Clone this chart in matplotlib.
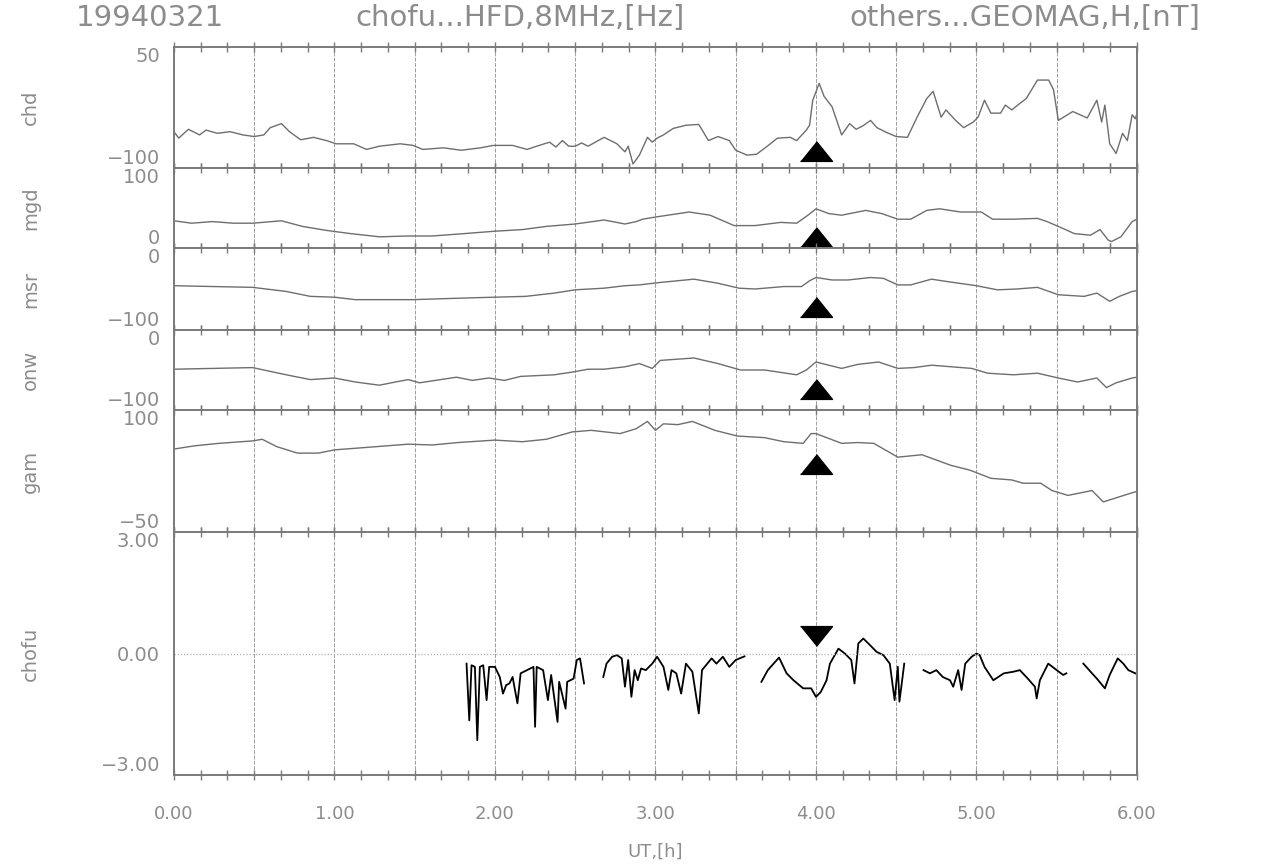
import numpy as np
import matplotlib
matplotlib.use("Agg")
import matplotlib.pyplot as plt
from matplotlib.ticker import MultipleLocator, FuncFormatter

# geomagnetic H component [nT], (UT hour, value)
chd = [(0, -55), (0.03, -63), (0.09, -52), (0.16, -59), (0.20, -53), (0.27, -57), (0.35, -55),
       (0.43, -59), (0.50, -61), (0.56, -59), (0.60, -50), (0.67, -45), (0.72, -55), (0.79, -65),
       (0.87, -62), (0.95, -66), (1.01, -70), (1.12, -70), (1.20, -77), (1.28, -73), (1.41, -70),
       (1.49, -72), (1.55, -77), (1.68, -75), (1.79, -78), (1.91, -75), (1.99, -72), (2.11, -72),
       (2.20, -77), (2.26, -73), (2.34, -68), (2.38, -74), (2.42, -66), (2.46, -73), (2.50, -73),
       (2.54, -69), (2.58, -73), (2.68, -62), (2.76, -70), (2.81, -80), (2.83, -73), (2.86, -95),
       (2.90, -84), (2.95, -62), (2.98, -68), (3.01, -63), (3.05, -59), (3.11, -51), (3.19, -47),
       (3.27, -46), (3.33, -66), (3.39, -61), (3.46, -66), (3.50, -78), (3.57, -84), (3.63, -83),
       (3.69, -74), (3.76, -63), (3.84, -62), (3.88, -66), (3.94, -53), (3.96, -47), (3.98, -16),
       (4.02, 5), (4.05, -11), (4.10, -24), (4.16, -59), (4.21, -45), (4.25, -52), (4.29, -48),
       (4.34, -41), (4.38, -50), (4.44, -56), (4.50, -61), (4.57, -62), (4.63, -37), (4.69, -14),
       (4.73, -5), (4.78, -37), (4.81, -28), (4.87, -41), (4.92, -50), (4.98, -43), (5.01, -37),
       (5.05, -16), (5.09, -32), (5.15, -32), (5.18, -22), (5.22, -28), (5.27, -20), (5.31, -14),
       (5.38, 9), (5.45, 9), (5.48, -3), (5.51, -41), (5.60, -30), (5.69, -38), (5.75, -16),
       (5.78, -43), (5.80, -22), (5.83, -70), (5.87, -82), (5.91, -57), (5.94, -66), (5.97, -34),
       (5.99, -39), (6.0, -32)]

mgd = [(0, 34), (0.11, 31), (0.24, 33), (0.37, 31), (0.49, 31), (0.67, 34), (0.80, 27),
       (0.95, 22), (1.10, 18), (1.28, 14), (1.46, 15), (1.61, 15), (1.81, 18), (2.0, 21),
       (2.17, 23), (2.32, 27), (2.50, 30), (2.68, 35), (2.81, 30), (2.88, 33), (2.92, 36),
       (3.01, 39), (3.21, 45), (3.34, 41), (3.49, 28), (3.62, 28), (3.78, 32), (3.88, 31),
       (3.95, 41), (4.0, 49), (4.08, 43), (4.16, 41), (4.31, 47), (4.41, 43), (4.51, 36),
       (4.59, 36), (4.69, 47), (4.77, 49), (4.90, 45), (5.03, 45), (5.10, 36), (5.23, 36),
       (5.38, 37), (5.44, 33), (5.51, 27), (5.61, 18), (5.71, 16), (5.77, 23), (5.82, 10),
       (5.84, 8), (5.90, 14), (5.97, 33), (6.0, 36)]

msr = [(0, -46), (0.49, -48), (0.70, -53), (0.85, -59), (1.0, -60), (1.13, -63), (1.33, -63),
       (1.49, -63), (1.81, -61), (2.19, -59), (2.37, -55), (2.50, -51), (2.68, -49), (2.81, -46),
       (2.90, -45), (3.03, -42), (3.24, -38), (3.39, -43), (3.52, -49), (3.62, -50), (3.80, -47),
       (3.91, -47), (3.96, -40), (4.0, -36), (4.10, -39), (4.20, -39), (4.34, -36), (4.42, -37),
       (4.51, -45), (4.59, -45), (4.72, -38), (4.82, -41), (5.0, -46), (5.13, -51), (5.25, -50),
       (5.38, -48), (5.51, -57), (5.67, -59), (5.75, -55), (5.83, -65), (5.89, -59), (5.97, -53),
       (6.0, -52)]

onw = [(0, -49), (0.49, -47), (0.70, -56), (0.85, -62), (1.0, -60), (1.13, -65), (1.28, -69),
       (1.38, -65), (1.46, -62), (1.53, -66), (1.76, -59), (1.86, -63), (1.96, -60), (2.06, -63),
       (2.16, -58), (2.37, -56), (2.50, -52), (2.58, -49), (2.68, -49), (2.81, -46), (2.90, -42),
       (2.98, -48), (3.03, -38), (3.24, -35), (3.39, -42), (3.53, -50), (3.68, -50), (3.88, -56),
       (3.94, -50), (4.0, -40), (4.06, -43), (4.16, -48), (4.26, -43), (4.39, -40), (4.51, -48),
       (4.61, -47), (4.72, -44), (4.97, -48), (5.07, -54), (5.23, -56), (5.38, -54), (5.51, -60),
       (5.63, -65), (5.75, -60), (5.81, -72), (5.87, -66), (5.97, -60), (6.0, -59)]

gam = [(0, 52), (0.13, 56), (0.28, 59), (0.49, 62), (0.55, 64), (0.64, 55), (0.77, 47),
       (0.90, 47), (1.0, 51), (1.20, 54), (1.46, 58), (1.61, 57), (1.77, 60), (2.0, 63),
       (2.17, 61), (2.32, 64), (2.48, 73), (2.60, 75), (2.78, 71), (2.88, 77), (2.95, 86),
       (3.0, 75), (3.05, 83), (3.14, 82), (3.23, 86), (3.37, 75), (3.51, 68), (3.68, 66),
       (3.80, 61), (3.92, 59), (3.97, 71), (4.0, 71), (4.08, 65), (4.16, 59), (4.26, 60),
       (4.36, 59), (4.51, 42), (4.66, 45), (4.84, 32), (4.96, 26), (5.09, 16), (5.22, 14),
       (5.29, 10), (5.40, 10), (5.47, 1), (5.57, -5), (5.72, 1), (5.79, -13), (5.95, -3),
       (6.0, 0)]

# chofu HFD 8 MHz doppler [Hz], gaps between segments
hfd_segments = [
    [(1.823, -0.25), (1.84, -1.65), (1.854, -0.29), (1.875, -0.33), (1.89, -2.14), (1.906, -0.33),
     (1.927, -0.29), (1.948, -1.15), (1.964, -0.33), (2.0, -0.33), (2.03, -0.58), (2.05, -0.99),
     (2.07, -0.78), (2.09, -0.74), (2.11, -0.58), (2.14, -1.23), (2.16, -0.49), (2.20, -0.41),
     (2.24, -0.33), (2.25, -1.81), (2.26, -0.33), (2.30, -0.41), (2.33, -1.15), (2.35, -0.53),
     (2.39, -1.69), (2.40, -0.70), (2.44, -1.36), (2.45, -0.70), (2.49, -0.62), (2.51, -0.16),
     (2.53, -0.12), (2.555, -0.74)],
    [(2.675, -0.58), (2.695, -0.25), (2.73, -0.08), (2.76, -0.04), (2.79, -0.12), (2.81, -0.82),
     (2.83, -0.16), (2.85, -1.07), (2.87, -0.41), (2.89, -0.66), (2.91, -0.37), (2.94, -0.41),
     (2.98, -0.25), (3.01, -0.08), (3.05, -0.33), (3.08, -0.90), (3.10, -0.41), (3.13, -0.49),
     (3.16, -0.99), (3.19, -0.25), (3.23, -0.45), (3.27, -1.48), (3.29, -0.41), (3.35, -0.12),
     (3.38, -0.25), (3.42, -0.08), (3.46, -0.33), (3.50, -0.16), (3.555, -0.07)],
    [(3.66, -0.70), (3.70, -0.41), (3.77, -0.10), (3.817, -0.49), (3.86, -0.66), (3.92, -0.86),
     (3.97, -0.86), (4.0, -1.07), (4.03, -0.95), (4.066, -0.66), (4.087, -0.25), (4.14, 0.12),
     (4.18, 0.0), (4.22, -0.16), (4.24, -0.74), (4.264, 0.25), (4.295, 0.37), (4.336, 0.21),
     (4.378, 0.04), (4.42, -0.04), (4.46, -0.25), (4.49, -1.15), (4.51, -0.33), (4.52, -1.19),
     (4.55, -0.25)],
    [(4.67, -0.41), (4.71, -0.49), (4.75, -0.41), (4.79, -0.58), (4.835, -0.66), (4.855, -0.82),
     (4.886, -0.41), (4.907, -0.90), (4.93, -0.25), (4.97, -0.08), (5.0, 0.0), (5.02, -0.04),
     (5.05, -0.33), (5.105, -0.66), (5.17, -0.49), (5.23, -0.45), (5.27, -0.41), (5.32, -0.62),
     (5.364, -0.82), (5.375, -1.11), (5.395, -0.66), (5.447, -0.25), (5.50, -0.41), (5.54, -0.53),
     (5.56, -0.49)],
    [(5.666, -0.25), (5.72, -0.49), (5.75, -0.62), (5.80, -0.86), (5.83, -0.53), (5.88, -0.12),
     (5.915, -0.25), (5.946, -0.41), (5.99, -0.49)],
]

panel_names = ["chd", "mgd", "msr", "onw", "gam", "chofu"]
panel_ylims = [(-100, 50), (0, 100), (-100, 0), (-100, 0), (-50, 100), (-3, 3)]
event_time = 4.0
event_levels = [-79, 14, -72, -74, 33, 0.43]

title_parts = ["19940321", "chofu...HFD,8MHz,[Hz]", "others...GEOMAG,H,[nT]"]

txt = "#8c8c8c"
frame = "#7a7a7a"

fig = plt.figure(figsize=(12.65, 8.67), dpi=100)
gs = fig.add_gridspec(6, 1, height_ratios=[121, 80, 82, 80, 122, 243], hspace=0,
                      left=0.1375, right=0.8988, top=0.9458, bottom=0.1061)
axes = [fig.add_subplot(gs[i]) for i in range(6)]

tri_up = [(-1, -0.62), (1, -0.62), (0, 0.62)]
tri_down = [(-1, 0.62), (1, 0.62), (0, -0.62)]

mag = [chd, mgd, msr, onw, gam]
for i, ax in enumerate(axes):
    lo, hi = panel_ylims[i]
    ax.set_xlim(0, 6)
    ax.set_ylim(lo, hi)
    ax.xaxis.set_major_locator(MultipleLocator(0.5))
    ax.xaxis.set_minor_locator(MultipleLocator(1 / 6))
    ax.grid(axis="x", which="major", color="#9c9c9c", lw=0.7, ls=(0, (4, 1.5)))
    ax.tick_params(axis="x", which="both", direction="inout", top=True, bottom=True,
                   length=7, width=1, color=frame, labelbottom=False)
    for sp in ax.spines.values():
        sp.set_color(frame)
        sp.set_linewidth(1.4)

    if i < 5:
        d = np.array(mag[i]).T
        ax.plot(d[0], d[1], color="#6e6e6e", lw=1.0)
        ax.set_yticks([lo, hi])
        ax.set_yticklabels([f"{lo:d}".replace("-", "\u2212"), f"{hi:d}".replace("-", "\u2212")])
        ax.plot([event_time], [event_levels[i]], marker=tri_up, ms=23, color="black", ls="none")
    else:
        for seg in hfd_segments:
            d = np.array(seg).T
            ax.plot(d[0], d[1], color="black", lw=1.3)
        ax.axhline(0, color="#b0b0b0", lw=0.9, ls=(0, (1, 1.5)))
        ax.set_yticks([lo, 0, hi])
        ax.set_yticklabels(["\u22123.00", "0.00", "3.00"])
        ax.plot([event_time], [event_levels[i]], marker=tri_down, ms=23, color="black", ls="none")

    ax.tick_params(axis="y", length=0, pad=10, labelsize=14, labelcolor=txt)
    ticks = ax.yaxis.get_major_ticks()
    ticks[0].label1.set_va("bottom")
    ticks[-1].label1.set_va("top")

    ax.set_ylabel(panel_names[i], fontsize=14, color=txt)
    ax.yaxis.set_label_coords(-0.139, 0.5)

bax = axes[-1]
bax.xaxis.set_major_formatter(FuncFormatter(
    lambda x, p: f"{x:.2f}" if abs(x - round(x)) < 1e-6 else ""))
bax.tick_params(axis="x", which="major", labelbottom=True, pad=18, labelsize=13, labelcolor=txt)
bax.set_xlabel("UT,[h]", fontsize=13, color=txt, labelpad=14)

for s, xc in zip(title_parts, [150, 520, 1025]):
    fig.text(xc / 1265, 1 - 18 / 867, s, ha="center", va="center", fontsize=21, color=txt)

fig.savefig("out.png", dpi=100)
